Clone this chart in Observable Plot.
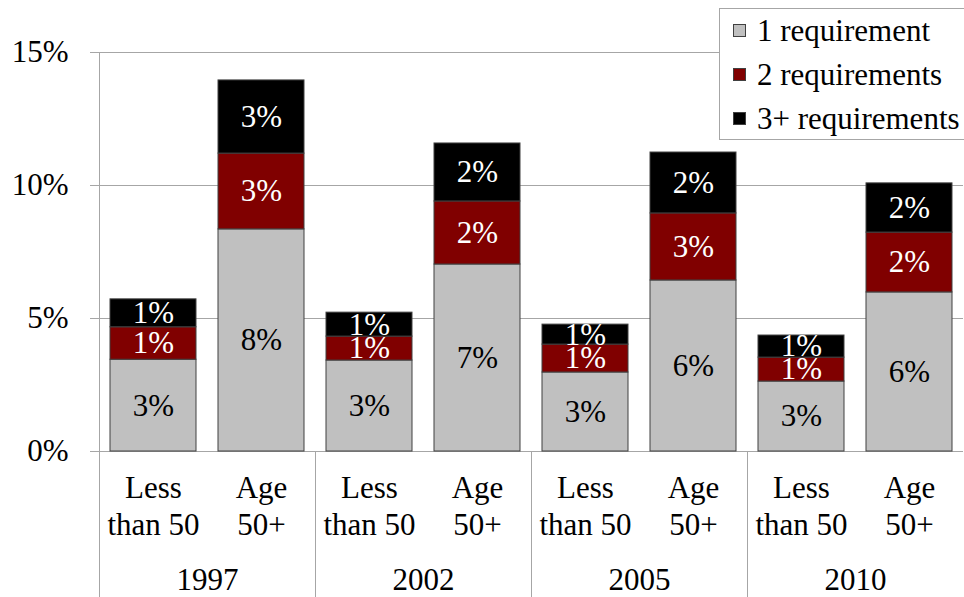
<!DOCTYPE html>
<html>
<head>
<meta charset="utf-8">
<script src="https://cdn.jsdelivr.net/npm/d3@7"></script>
<script src="https://cdn.jsdelivr.net/npm/@observablehq/plot@0.6"></script>
<style>
  html, body { margin: 0; padding: 0; background: #fff; overflow: hidden; }
  #wrap { position: relative; width: 964px; height: 597px; overflow: hidden; font-family: "Liberation Serif", "Times New Roman", serif; }
  #legend { position: absolute; left: 719px; top: 8px; width: 300px; height: 132px; background: #fff; border: 1px solid #a6a6a6; box-sizing: border-box; font-size: 31px; color: #000; }
  #legend .row { height: 44px; line-height: 44px; position: relative; padding-left: 37px; white-space: nowrap; }
  #legend .sw { position: absolute; left: 13px; top: 15px; width: 13px; height: 13px; border: 1px solid #404040; box-sizing: border-box; }
</style>
</head>
<body>
<div id="wrap"><div id="chart"></div><div id="legend"></div></div>
<script>
const years = ["1997", "2002", "2005", "2010"];
const groups = ["Less than 50", "Age 50+"];
const groupLabels = ["Less\nthan 50", "Age\n50+"];
const series = ["1 requirement", "2 requirements", "3+ requirements"];
const colors = ["#c0c0c0", "#800000", "#000000"];
const yTicks = [0, 5, 10, 15];
// order: 1997 Less, 1997 Age, 2002 Less, 2002 Age, 2005 Less, 2005 Age, 2010 Less, 2010 Age
const req1 = [3.45, 8.35, 3.42, 7.03, 2.97, 6.43, 2.63, 5.98];
const req2 = [1.22, 2.85, 0.90, 2.37, 1.05, 2.52, 0.90, 2.25];
const req3 = [1.05, 2.75, 0.90, 2.18, 0.75, 2.29, 0.83, 1.85];

const values = [req1, req2, req3];
const data = [];
years.forEach((year, yi) => {
  groups.forEach((group, gi) => {
    series.forEach((s, si) => {
      data.push({year, group, series: s, value: values[si][yi * 2 + gi]});
    });
  });
});

const W = 964, H = 597, mT = 52, mB = 146, mL = 97, mR = 0;
const grey = "#a6a6a6";

const chart = Plot.plot({
  width: W, height: H,
  marginTop: mT, marginBottom: mB, marginLeft: mL, marginRight: mR,
  style: {fontFamily: "'Liberation Serif','Times New Roman',serif", fontSize: "31px", color: "#000", background: "#fff", overflow: "visible"},
  fx: {domain: years, paddingInner: 0, paddingOuter: 0, label: null},
  x: {domain: groups, paddingInner: 0.2, paddingOuter: 0.1, label: null},
  y: {domain: [0, 15], label: null},
  color: {domain: series, range: colors},
  marks: [
    Plot.gridY({ticks: yTicks, stroke: grey, strokeOpacity: 1}),
    Plot.axisY({ticks: yTicks, tickFormat: d => d + "%", tickSize: 9, tickPadding: 22, stroke: grey, label: null}),
    Plot.axisX({tickSize: 0, tickPadding: 21, tickFormat: d => groupLabels[groups.indexOf(d)], lineHeight: 1.18, label: null}),
    Plot.axisFx({anchor: "bottom", tickSize: 0, tickPadding: 116, label: null}),
    Plot.frame({anchor: "left", facetAnchor: "left", stroke: grey, strokeOpacity: 1, insetBottom: -mB}),
    Plot.frame({anchor: "left", stroke: grey, strokeOpacity: 1, insetTop: H - mT - mB, insetBottom: -mB}),
    Plot.barY(data, {fx: "year", x: "group", y: "value", fill: "series", stroke: "#404040", strokeWidth: 1}),
    Plot.text(data, Plot.stackY({fx: "year", x: "group", y: "value", z: "series",
      text: d => d.series === series[0] ? Math.round(d.value) + "%" : "", fill: "#000"})),
    Plot.text(data, Plot.stackY({fx: "year", x: "group", y: "value", z: "series",
      text: d => d.series !== series[0] ? Math.round(d.value) + "%" : "", fill: "#fff"}))
  ]
});
document.getElementById("chart").appendChild(chart);

const legend = document.getElementById("legend");
series.forEach((s, i) => {
  const row = document.createElement("div");
  row.className = "row";
  const sw = document.createElement("span");
  sw.className = "sw";
  sw.style.background = colors[i];
  row.appendChild(sw);
  row.appendChild(document.createTextNode(s));
  legend.appendChild(row);
});
</script>
</body>
</html>
